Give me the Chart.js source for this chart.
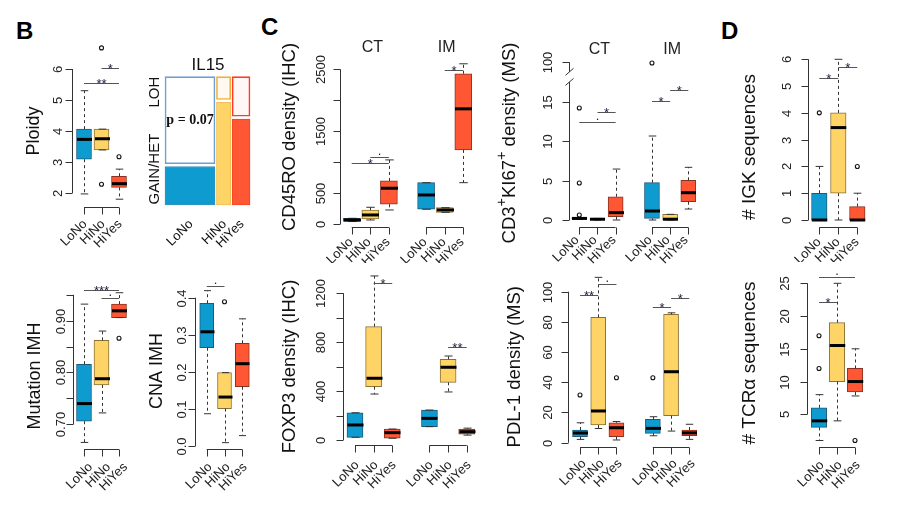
<!DOCTYPE html>
<html>
<head>
<meta charset="utf-8">
<script src="https://cdn.jsdelivr.net/npm/chart.js@4.4.1/dist/chart.umd.min.js"></script>
<style>
  body { margin: 0; background: #fff; width: 900px; height: 511px; position: relative; overflow: hidden; }
  canvas { position: absolute; }
  .tag { position: absolute; font: bold 24px/24px "Liberation Sans", Arial, sans-serif; color: #000; }
</style>
</head>
<body>
<div class="tag" style="left:16px;top:19px">B</div>
<div class="tag" style="left:261px;top:15px">C</div>
<div class="tag" style="left:721px;top:19px">D</div>

<script>
// ---- data ----
const groups = ['LoNo', 'HiNo', 'HiYes'];
const sites = ['CT', 'IM'];
const xThree = [1, 2, 3];
const xSix = [1, 2, 3, 5, 6, 7];

// box stats per group: [min, q1, median, q3, max]
const ploidyBox = [[1.97, 3.09, 3.73, 4.06, 5.3], [3.39, 3.39, 3.75, 4.06, 4.06], [1.8, 2.18, 2.3, 2.54, 2.77]];
const ploidyOut = [[], [2.28, 6.68], [3.17]];
const ploidySig = [[1, 3, 5.55, '**'], [2, 3, 6.03, '*']];
const ploidyTicks = [2, 3, 4, 5, 6];
const ploidyTickLabels = ['2', '3', '4', '5', '6'];

const il15Counts = [14, 4, 5];
const il15Gain = [0.3, 0.8, 0.67];
const il15States = ['GAIN/HET', 'LOH'];
const il15P = 'p = 0.07';

const mutBox = [[0.665, 0.706, 0.74, 0.816, 0.932], [0.722, 0.776, 0.788, 0.862, 0.88], [0.906, 0.906, 0.919, 0.932, 0.954]];
const mutOut = [[], [], [0.866]];
const mutSig = [[1, 3, 0.96, '***'], [2, 3, 0.944, '.']];
const mutTicks = [0.70, 0.75, 0.80, 0.85, 0.90, 0.95];
const mutTickLabels = ['0.70', '', '0.80', '', '0.90', ''];

const cnaBox = [[0.087, 0.265, 0.308, 0.385, 0.419], [0.009, 0.101, 0.132, 0.198, 0.198], [0.028, 0.16, 0.222, 0.277, 0.343]];
const cnaOut = [[], [0.389], []];
const cnaSig = [[1, 2, 0.432, '.']];
const cnaTicks = [0, 0.1, 0.2, 0.3, 0.4];
const cnaTickLabels = ['0.0', '0.1', '0.2', '0.3', '0.4'];

const cd45Box = [[40, 40, 65, 92, 92], [65, 81, 146, 226, 270], [227, 319, 578, 696, 1036],
                 [238, 238, 469, 668, 668], [189, 189, 227, 264, 264], [668, 1197, 1861, 2427, 2589]];
const cd45Out = [[], [], [], [], [], []];
const cd45Sig = [[1, 3, 982, '*'], [2, 3, 1089, '.'], [6, 7, 2481, '*']];
const cd45Ticks = [0, 500, 1000, 1500, 2000, 2500];
const cd45TickLabels = ['0', '500', '', '1500', '', '2500'];

const ki67Box = [[0.1, 0.1, 0.2, 0.3, 0.3], [0, 0, 0.1, 0.2, 0.2], [0, 0.42, 0.93, 2.95, 6.46],
                 [0, 0.2, 1.14, 4.73, 10.65], [0, 0, 0.1, 0.72, 0.72], [1.39, 2.32, 3.46, 5.03, 6.68]];
const ki67Out = [[14.2, 4.7, 0.63], [], [], [97], [], []];
const ki67Sig = [[1, 3, 12.38, '.'], [2, 3, 13.65, '*'], [5, 6, 15.1, '*'], [6, 7, 16.5, '*']];
const ki67Ticks = [0, 5, 10, 15, 100];
const ki67TickLabels = ['0', '5', '10', '15', '100'];

const foxBox = [[22, 22, 123, 223, 223], [376, 436, 505, 927, 1342], [14, 14, 60, 90, 90],
                [109, 109, 177, 245, 245], [393, 472, 595, 660, 687], [40, 47, 68, 90, 97]];
const foxOut = [[], [], [], [], [], []];
const foxSig = [[2, 3, 1282, '*'], [6, 7, 758, '**']];
const foxTicks = [0, 200, 400, 600, 800, 1000, 1200];
const foxTickLabels = ['0', '', '400', '', '800', '', '1200'];

const pdlBox = [[2.2, 4.0, 6.4, 8.4, 13.2], [9.4, 11.7, 21, 83, 109.5], [1.8, 4.0, 9.9, 13.2, 14],
                [4.6, 6.2, 9.5, 15.5, 17.2], [7.7, 17.9, 47, 85, 86], [2.2, 4.6, 6.5, 8.4, 12.2]];
const pdlOut = [[31.6], [], [43], [43], [], []];
const pdlSig = [[1, 2, 97.8, '**'], [2, 3, 105, '.'], [5, 6, 90, '*'], [6, 7, 95.6, '*']];
const pdlTicks = [0, 20, 40, 60, 80, 100];
const pdlTickLabels = ['0', '20', '40', '60', '80', '100'];

const igkBox = [[0, 0, 0, 1, 2], [0, 1, 3.45, 4, 6], [0, 0, 0, 0.5, 1]];
const igkOut = [[4], [], [2]];
const igkSig = [[1, 2, 5.32, '*'], [2, 3, 5.72, '*']];
const igkTicks = [0, 1, 2, 3, 4, 5, 6];
const igkTickLabels = ['0', '1', '2', '3', '4', '5', '6'];

const tcrBox = [[1, 3, 4, 6, 8], [4, 10, 15.5, 19, 25], [7.8, 8.4, 10, 12, 15]];
const tcrOut = [[17, 12], [], [1]];
const tcrSig = [[1, 2, 22.2, '*'], [1, 3, 26, '.']];
const tcrTicks = [5, 10, 15, 20, 25];
const tcrTickLabels = ['5', '10', '15', '20', '25'];

// ---- styling ----
const FONT = '"Liberation Sans", Arial, sans-serif';
const fillCols = ['#0E9BD0', '#FFD466', '#FF5733'];
const edgeCols = ['#20597a', '#8a7236', '#8c3222'];
const gainEdge = ['#3a8fbf', '#f0c052', '#f2442a'];
const lohEdge = ['#6f9fcf', '#f0b13f', '#ff3b2a'];
const lohFill = ['#ffffff', '#fff9f0', '#fff6f6'];

// axis break for the CD3+KI67+ panel (values above 17.5 squeezed into the top)
const ki67Break = v => v <= 17.5 ? v : 17.5 + (v - 17.5) * 2.5 / 82.5;

function line(ctx, x1, y1, x2, y2) {
    ctx.beginPath(); ctx.moveTo(x1, y1); ctx.lineTo(x2, y2); ctx.stroke();
}

function rotText(ctx, txt, x, y, ang, align, base) {
    ctx.save();
    ctx.translate(x, y); ctx.rotate(ang);
    ctx.textAlign = align; ctx.textBaseline = base;
    ctx.fillText(txt, 0, 0);
    ctx.restore();
}

// rotated title made of runs, some of them superscript
function rotRuns(ctx, runs, x, y, size) {
    ctx.save();
    ctx.translate(x, y); ctx.rotate(-Math.PI / 2);
    ctx.textBaseline = 'middle'; ctx.textAlign = 'left';
    const widths = runs.map(([t, sup]) => {
        ctx.font = (sup ? size * 0.78 : size) + 'px ' + FONT;
        return ctx.measureText(t).width;
    });
    let cx = -widths.reduce((a, b) => a + b, 0) / 2;
    runs.forEach(([t, sup], i) => {
        ctx.font = (sup ? size * 0.78 : size) + 'px ' + FONT;
        ctx.fillText(t, cx, sup ? -size * 0.42 : 0);
        cx += widths[i];
    });
    ctx.restore();
}

function boxPlugin(p, xs, tf) {
    return {
        id: 'rbox',
        afterDatasetsDraw(chart) {
            const ctx = chart.ctx;
            const X = v => chart.scales.x.getPixelForValue(v);
            const Y = v => chart.scales.y.getPixelForValue(tf(v));
            const [L, T] = p.pos;
            ctx.save();
            ctx.lineCap = 'butt';

            // whiskers, staples, medians
            p.box.forEach((s, i) => {
                const cx = Math.round(X(xs[i])) + 0.5;
                ctx.strokeStyle = '#333'; ctx.lineWidth = 1;
                ctx.setLineDash([3, 3]);
                if (s[4] > s[3]) line(ctx, cx, Y(s[3]), cx, Y(s[4]));
                if (s[0] < s[1]) line(ctx, cx, Y(s[1]), cx, Y(s[0]));
                ctx.setLineDash([]);
                const cap = p.boxW / 4;
                line(ctx, cx - cap, Y(s[4]), cx + cap, Y(s[4]));
                line(ctx, cx - cap, Y(s[0]), cx + cap, Y(s[0]));
                ctx.strokeStyle = '#000'; ctx.lineWidth = 3;
                line(ctx, cx - p.boxW / 2, Y(s[2]), cx + p.boxW / 2, Y(s[2]));
            });

            // significance bars
            ctx.lineWidth = 1;
            ctx.fillStyle = '#1e1e3c';
            ctx.font = '13px ' + FONT;
            ctx.textAlign = 'center'; ctx.textBaseline = 'alphabetic';
            p.sig.forEach(([a, b, v, lab]) => {
                const y = Math.round(Y(v)) + 0.5;
                ctx.strokeStyle = '#555';
                line(ctx, X(a), y, X(b), y);
                const dy = lab.indexOf('*') >= 0 ? 4 : -3;
                ctx.fillText(lab, (X(a) + X(b)) / 2, y + dy);
            });

            // y axis
            ctx.strokeStyle = '#333'; ctx.fillStyle = '#222';
            const ax = Math.round(p.axisX - L) + 0.5;
            const segs = p.segs || [[p.ticks[0], p.ticks[p.ticks.length - 1]]];
            segs.forEach(([a, b]) => line(ctx, ax, Y(a), ax, Y(b)));
            (p.slashes || []).forEach(v => line(ctx, ax - 4, Y(v) + 3.5, ax + 4, Y(v) - 3.5));
            ctx.font = '13px ' + FONT;
            p.ticks.forEach((t, k) => {
                const y = Math.round(Y(t)) + 0.5;
                line(ctx, ax, y, ax - 7, y);
                if (p.tickLabels[k]) rotText(ctx, p.tickLabels[k], ax - p.gap, y, -Math.PI / 2, 'center', 'alphabetic');
            });

            // x axis brackets with group labels
            const by = Math.round(p.axisY - T) + 0.5;
            for (let g = 0; g < xs.length / 3; g++) {
                line(ctx, X(xs[3 * g]), by, X(xs[3 * g + 2]), by);
            }
            xs.forEach((xv, i) => {
                const x = Math.round(X(xv)) + 0.5;
                line(ctx, x, by, x, by + 7);
                rotText(ctx, groups[i % 3], x + p.lab[0], by + p.lab[1], -Math.PI / 4, 'right', 'middle');
            });

            // site headers
            if (xs.length === 6) {
                ctx.font = '16px ' + FONT;
                ctx.textAlign = 'center'; ctx.textBaseline = 'middle';
                sites.forEach((s, g) => ctx.fillText(s, (X(xs[3 * g]) + X(xs[3 * g + 2])) / 2 + 2, p.siteY - T));
            }

            // y title
            ctx.fillStyle = '#111';
            if (p.runs) {
                rotRuns(ctx, p.runs, p.titleXY[0] - L, p.titleXY[1] - T, p.titleSize);
            } else {
                ctx.font = p.titleSize + 'px ' + FONT;
                rotText(ctx, p.title, p.titleXY[0] - L, p.titleXY[1] - T, -Math.PI / 2, 'center', 'middle');
            }
            ctx.restore();
        }
    };
}

function addCanvas(pos) {
    const cv = document.createElement('canvas');
    cv.width = pos[2]; cv.height = pos[3];
    cv.style.left = pos[0] + 'px'; cv.style.top = pos[1] + 'px';
    document.body.appendChild(cv);
    return cv;
}

// scale limits so that the chart area (= whole canvas) reproduces the page mapping
function limits(map, from, to) {
    const k = (map[3] - map[1]) / (map[2] - map[0]);
    const at = px => map[0] + (px - map[1]) / k;
    const a = at(from), b = at(to);
    return [Math.min(a, b), Math.max(a, b)];
}

const baseOptions = (xl, yl) => ({
    responsive: false, animation: false, events: [], devicePixelRatio: 1,
    layout: { padding: 0, autoPadding: false },
    plugins: { legend: { display: false }, tooltip: { enabled: false } },
    scales: {
        x: { type: 'linear', display: false, offset: false, min: xl[0], max: xl[1] },
        y: { type: 'linear', display: false, min: yl[0], max: yl[1] }
    }
});

function makeBoxChart(p) {
    const cv = addCanvas(p.pos);
    const [L, T, W, H] = p.pos;
    const tf = p.tf || (v => v);
    const xs = p.box.length === 3 ? xThree : xSix;
    const boxData = p.box.map((s, i) => ({ x: xs[i], y: [tf(s[1]), tf(s[3])] }));
    const outData = [];
    p.out.forEach((arr, i) => arr.forEach(v => outData.push({ x: xs[i], y: tf(v) })));
    const opts = baseOptions(limits(p.xMap, L, L + W), limits(p.yMap, T + H, T));
    new Chart(cv, {
        type: 'bar',
        data: {
            datasets: [
                {
                    type: 'bar', data: boxData,
                    backgroundColor: xs.map((_, i) => fillCols[i % 3]),
                    borderColor: xs.map((_, i) => edgeCols[i % 3]),
                    borderWidth: 1, borderSkipped: false, barThickness: p.boxW
                },
                {
                    type: 'scatter', data: outData,
                    pointRadius: 2, pointBorderWidth: 1.1,
                    pointBorderColor: '#111', pointBackgroundColor: 'rgba(0,0,0,0)'
                }
            ]
        },
        options: opts,
        plugins: [boxPlugin(p, xs, tf)]
    });
}

function makeMosaic() {
    const pos = [140, 50, 125, 210];
    const [L, T, W, H] = pos;
    const gapU = 0.4, gapY = 0.022;
    const centers = [];
    let cur = 0;
    il15Counts.forEach(c => { centers.push(cur + c / 2); cur += c + gapU; });
    const total = cur - gapU;
    const xMap = [0, 165, total, 250];
    const yMap = [0, 205, 1, 76.7];
    const pxU = (xMap[3] - xMap[1]) / total;
    const cv = addCanvas(pos);
    const opts = baseOptions(limits(xMap, L, L + W), limits(yMap, T + H, T));
    opts.scales.x.stacked = true;
    opts.scales.y.stacked = false;
    const datasets = [];
    il15Counts.forEach((c, i) => {
        datasets.push({
            data: [{ x: centers[i], y: [0, il15Gain[i]] }], stack: 'm',
            backgroundColor: fillCols[i], borderColor: gainEdge[i], borderWidth: 1,
            borderSkipped: false, barThickness: c * pxU
        });
        datasets.push({
            data: [{ x: centers[i], y: [il15Gain[i] + gapY, 1] }], stack: 'm',
            backgroundColor: lohFill[i], borderColor: lohEdge[i], borderWidth: 1.6,
            borderSkipped: false, barThickness: c * pxU
        });
    });
    new Chart(cv, {
        type: 'bar',
        data: { datasets },
        options: opts,
        plugins: [{
            id: 'mosaicText',
            afterDatasetsDraw(chart) {
                const ctx = chart.ctx;
                const X = v => chart.scales.x.getPixelForValue(v);
                const Y = v => chart.scales.y.getPixelForValue(v);
                ctx.save();
                ctx.fillStyle = '#111';
                ctx.font = '17px ' + FONT;
                ctx.textAlign = 'center'; ctx.textBaseline = 'middle';
                ctx.fillText('IL15', 208 - L, 65 - T);
                ctx.font = 'bold 14px "Liberation Serif", serif';
                ctx.fillText(il15P, X(centers[0]), Y(0.66));
                ctx.font = '15px ' + FONT;
                rotText(ctx, il15States[1], 155 - L, Y(0.88), -Math.PI / 2, 'center', 'middle');
                rotText(ctx, il15States[0], 155 - L, Y(0.28), -Math.PI / 2, 'center', 'middle');
                ctx.font = '13px ' + FONT;
                centers.forEach((c, i) => rotText(ctx, groups[i], X(c) + 1, 222 - T, -Math.PI / 4, 'right', 'middle'));
                ctx.restore();
            }
        }]
    });
}

const panels = [
    { box: ploidyBox, out: ploidyOut, sig: ploidySig, ticks: ploidyTicks, tickLabels: ploidyTickLabels,
      pos: [0, 40, 140, 220], yMap: [2, 193, 6, 69], xMap: [1, 84, 3, 119], axisX: 72.3, axisY: 207,
      gap: 11, lab: [0.5, 14.5], boxW: 15, title: 'Ploidy', titleXY: [34, 131], titleSize: 18 },
    { box: mutBox, out: mutOut, sig: mutSig, ticks: mutTicks, tickLabels: mutTickLabels,
      pos: [0, 262, 140, 248], yMap: [0.7, 424.3, 0.9, 320.7], xMap: [1, 84, 3, 119], axisX: 73, axisY: 449.3,
      gap: 9, lab: [6, 15.5], boxW: 15, title: 'Mutation IMH', titleXY: [35, 376], titleSize: 18 },
    { box: cnaBox, out: cnaOut, sig: cnaSig, ticks: cnaTicks, tickLabels: cnaTickLabels,
      pos: [140, 262, 120, 248], yMap: [0, 446, 0.4, 297.7], xMap: [1, 206.7, 3, 242.3], axisX: 195, axisY: 449.3,
      gap: 10, lab: [2.5, 15.5], boxW: 14, title: 'CNA IMH', titleXY: [157, 371], titleSize: 18 },
    { box: cd45Box, out: cd45Out, sig: cd45Sig, ticks: cd45Ticks, tickLabels: cd45TickLabels,
      pos: [262, 38, 225, 225], yMap: [0, 224, 2500, 69.3], xMap: [1, 351.7, 7, 463.3], axisX: 340, axisY: 227.3,
      gap: 16, lab: [-1.5, 12.5], boxW: 17, siteY: 48, title: 'CD45RO density (IHC)', titleXY: [290, 137], titleSize: 18.5 },
    { box: ki67Box, out: ki67Out, sig: ki67Sig, ticks: ki67Ticks, tickLabels: ki67TickLabels, tf: ki67Break,
      segs: [[0, 17.8], [60, 100]], slashes: [17.8, 60],
      pos: [490, 25, 225, 240], yMap: [0, 220, 15, 101.7], xMap: [1, 579.3, 7, 688.3], axisX: 569, axisY: 227.3,
      gap: 18, lab: [-2.5, 10.5], boxW: 15, siteY: 50, titleXY: [510, 143], titleSize: 18.5,
      runs: [['CD3', false], ['+', true], ['KI67', false], ['+', true], [' density (MS)', false]] },
    { box: foxBox, out: foxOut, sig: foxSig, ticks: foxTicks, tickLabels: foxTickLabels,
      pos: [262, 262, 225, 248], yMap: [0, 440, 1200, 293.3], xMap: [1, 355, 7, 466.7], axisX: 342.7, axisY: 445,
      gap: 18.7, lab: [1.5, 17.5], boxW: 16, title: 'FOXP3 density (IHC)', titleXY: [289.5, 366.5], titleSize: 18.5 },
    { box: pdlBox, out: pdlOut, sig: pdlSig, ticks: pdlTicks, tickLabels: pdlTickLabels,
      pos: [490, 262, 225, 248], yMap: [0, 442.7, 100, 291.7], xMap: [1, 580, 7, 689.3], axisX: 568.3, axisY: 447.3,
      gap: 17, lab: [3.5, 14], boxW: 15, title: 'PDL-1 density (MS)', titleXY: [515, 366.7], titleSize: 18.5 },
    { box: igkBox, out: igkOut, sig: igkSig, ticks: igkTicks, tickLabels: igkTickLabels,
      pos: [720, 40, 180, 222], yMap: [0, 220, 6, 59.3], xMap: [1, 819.3, 3, 857.3], axisX: 808.3, axisY: 227.3,
      gap: 18, lab: [-0.5, 12.5], boxW: 15.5, title: '# IGK sequences', titleXY: [749.5, 147], titleSize: 19 },
    { box: tcrBox, out: tcrOut, sig: tcrSig, ticks: tcrTicks, tickLabels: tcrTickLabels,
      pos: [720, 262, 180, 248], yMap: [5, 414.3, 25, 283.3], xMap: [1, 819, 3, 855], axisX: 807.3, axisY: 447.3,
      gap: 19, lab: [2.5, 15.5], boxW: 15.5, title: '# TCRα sequences', titleXY: [749.5, 363], titleSize: 19 }
];

makeMosaic();
panels.forEach(makeBoxChart);
</script>
</body>
</html>
